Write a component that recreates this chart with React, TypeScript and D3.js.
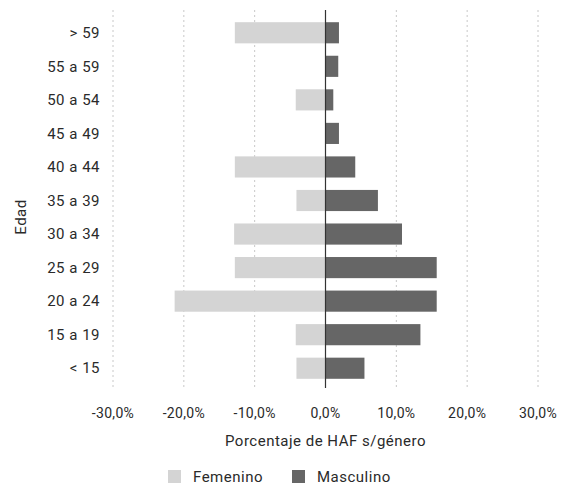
import React, { useEffect, useRef } from 'react';
import * as d3 from 'd3';

// Age groups, top to bottom
const categories = ['> 59', '55 a 59', '50 a 54', '45 a 49', '40 a 44', '35 a 39', '30 a 34', '25 a 29', '20 a 24', '15 a 19', '< 15'];
// Percentages (female drawn to the left as negative values)
const femenino = [-12.8, 0, -4.2, 0, -12.8, -4.1, -12.9, -12.8, -21.3, -4.2, -4.1];
const masculino = [1.9, 1.8, 1.1, 1.9, 4.2, 7.4, 10.8, 15.7, 15.7, 13.4, 5.5];
const ticks = [-30, -20, -10, 0, 10, 20, 30];
const seriesNames = ['Femenino', 'Masculino'];

const colors = { Femenino: '#d4d4d4', Masculino: '#666666' };

const App: React.FC = () => {
  const svgRef = useRef<SVGSVGElement | null>(null);

  useEffect(() => {
    const svg = d3.select(svgRef.current);
    svg.selectAll('*').remove();

    const font = 'Roboto, sans-serif';
    const textColor = '#2a2a2a';

    const x = d3.scaleLinear().domain([-30, 30]).range([113, 538]);
    const y = d3.scaleBand<string>().domain(categories).range([16, 385]).paddingInner(0.37).paddingOuter(0.185);

    // vertical gridlines
    svg.append('g')
      .selectAll('line')
      .data(ticks.filter(t => t !== 0))
      .join('line')
      .attr('x1', d => x(d))
      .attr('x2', d => x(d))
      .attr('y1', 10)
      .attr('y2', 388)
      .attr('stroke', '#c8c8c8')
      .attr('stroke-width', 1)
      .attr('stroke-dasharray', '2,3');

    // bars
    const rows = categories.map((c, i) => ({ c, f: femenino[i], m: masculino[i] }));
    svg.append('g')
      .selectAll('rect')
      .data(rows.filter(d => d.f !== 0))
      .join('rect')
      .attr('x', d => x(d.f))
      .attr('y', d => y(d.c)!)
      .attr('width', d => x(0) - x(d.f))
      .attr('height', y.bandwidth())
      .attr('fill', colors.Femenino);

    svg.append('g')
      .selectAll('rect')
      .data(rows)
      .join('rect')
      .attr('x', x(0))
      .attr('y', d => y(d.c)!)
      .attr('width', d => x(d.m) - x(0))
      .attr('height', y.bandwidth())
      .attr('fill', colors.Masculino);

    // zero axis line
    svg.append('line')
      .attr('x1', x(0)).attr('x2', x(0))
      .attr('y1', 10).attr('y2', 388)
      .attr('stroke', '#333').attr('stroke-width', 1.2);

    // category labels
    svg.append('g')
      .selectAll('text')
      .data(categories)
      .join('text')
      .attr('x', 100)
      .attr('y', d => y(d)! + y.bandwidth() / 2)
      .attr('dy', '0.35em')
      .attr('text-anchor', 'end')
      .attr('font-family', font)
      .attr('font-size', 15)
      .attr('letter-spacing', 0.5)
      .attr('fill', textColor)
      .text(d => d);

    // x tick labels
    const fmt = (v: number) => d3.format('.1f')(v).replace('.', ',').replace('−', '-') + '%';
    svg.append('g')
      .selectAll('text')
      .data(ticks)
      .join('text')
      .attr('x', d => x(d))
      .attr('y', 418)
      .attr('text-anchor', 'middle')
      .attr('font-family', font)
      .attr('font-size', 14)
      .attr('letter-spacing', 0.3)
      .attr('fill', textColor)
      .text(d => fmt(d));

    // axis titles
    svg.append('text')
      .attr('x', x(0))
      .attr('y', 446)
      .attr('text-anchor', 'middle')
      .attr('font-family', font)
      .attr('font-size', 15)
      .attr('letter-spacing', 0.5)
      .attr('fill', textColor)
      .text('Porcentaje de HAF s/género');

    svg.append('text')
      .attr('transform', 'translate(26,217) rotate(-90)')
      .attr('text-anchor', 'middle')
      .attr('font-family', font)
      .attr('font-size', 15)
      .attr('letter-spacing', 0.5)
      .attr('fill', textColor)
      .text('Edad');

    // legend
    const legendX = [168, 292];
    const lg = svg.append('g')
      .selectAll('g')
      .data(seriesNames)
      .join('g')
      .attr('transform', (d, i) => `translate(${legendX[i]},477)`);
    lg.append('rect')
      .attr('x', 0).attr('y', -7)
      .attr('width', 13).attr('height', 13)
      .attr('fill', d => colors[d as keyof typeof colors]);
    lg.append('text')
      .attr('x', 25)
      .attr('dy', '0.35em')
      .attr('font-family', font)
      .attr('font-size', 15)
      .attr('letter-spacing', 0.5)
      .attr('fill', textColor)
      .text(d => d);
  }, []);

  return (
    <svg ref={svgRef} width={565} height={489} style={{ position: 'absolute', left: 0, top: 0, background: '#fff' }}></svg>
  );
};

export default App;
